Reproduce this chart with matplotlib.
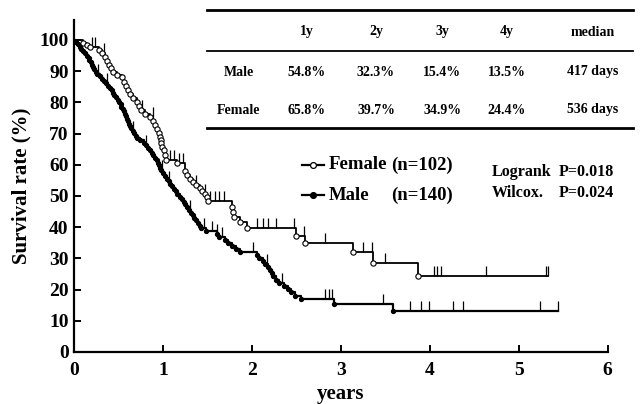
import numpy as np
import matplotlib
matplotlib.use('Agg')
import matplotlib.pyplot as plt
from matplotlib.lines import Line2D

# Female: event times (years) and survival (%) after each drop
f_t = [0.10, 0.14, 0.18, 0.28, 0.31, 0.35, 0.37, 0.39, 0.41, 0.43, 0.48, 0.54, 0.56, 0.58,
       0.60, 0.63, 0.66, 0.70, 0.73, 0.75, 0.80, 0.85, 0.89, 0.91, 0.93, 0.95, 0.96, 0.97,
       0.98, 0.99, 1.01, 1.02, 1.03, 1.15, 1.25, 1.27, 1.30, 1.33, 1.37, 1.41, 1.44, 1.47,
       1.49, 1.50, 1.77, 1.79, 1.80, 1.86, 1.94, 2.49, 2.60, 3.13, 3.36, 3.87]
f_s = [99.0, 98.4, 97.8, 96.8, 95.7, 94.6, 93.3, 92.0, 90.9, 89.6, 88.9, 88.0, 86.6, 85.2,
       83.9, 82.6, 81.4, 80.2, 78.8, 77.6, 76.4, 75.2, 74.0, 72.8, 71.4, 70.2, 69.0, 67.9,
       66.9, 65.8, 64.6, 63.2, 61.6, 60.6, 58.0, 56.6, 55.5, 54.5, 53.4, 52.5, 51.6, 50.7,
       49.6, 48.3, 46.6, 45.0, 43.4, 41.8, 39.8, 37.3, 34.9, 31.9, 28.4, 24.4]
f_cens = [0.20, 0.23, 0.33, 0.76, 0.88, 1.08, 1.12, 1.18, 1.22, 1.37, 1.47, 1.53, 1.58, 1.63,
          1.68, 2.06, 2.12, 2.18, 2.27, 2.47, 2.58, 2.82, 3.25, 3.35, 3.49, 4.05, 4.08, 4.13,
          4.63, 5.31, 5.33]
f_end = 5.33

# Male
m_t = [0.02, 0.04, 0.06, 0.08, 0.10, 0.12, 0.14, 0.16, 0.17, 0.19, 0.20, 0.21, 0.22, 0.24,
       0.25, 0.29, 0.31, 0.33, 0.36, 0.38, 0.40, 0.42, 0.44, 0.45, 0.47, 0.49, 0.50, 0.52,
       0.53, 0.55, 0.56, 0.57, 0.58, 0.59, 0.60, 0.62, 0.63, 0.64, 0.66, 0.67, 0.69, 0.71,
       0.74, 0.78, 0.81, 0.83, 0.85, 0.87, 0.89, 0.91, 0.93, 0.94, 0.95, 0.96, 0.98, 1.00,
       1.02, 1.04, 1.06, 1.08, 1.10, 1.12, 1.14, 1.16, 1.19, 1.21, 1.23, 1.25, 1.27, 1.29,
       1.31, 1.33, 1.35, 1.37, 1.39, 1.41, 1.43, 1.48, 1.60, 1.63, 1.70, 1.73, 1.77, 1.82,
       1.86, 2.05, 2.08, 2.12, 2.15, 2.18, 2.20, 2.22, 2.24, 2.27, 2.30, 2.36, 2.40, 2.44,
       2.48, 2.55, 2.92, 3.58]
m_s = [99.3, 98.6, 97.9, 97.1, 96.4, 95.7, 94.9, 94.2, 93.5, 92.8, 92.0, 91.3, 90.6, 89.8,
       89.1, 88.4, 87.6, 86.9, 86.1, 85.4, 84.6, 83.9, 83.1, 82.4, 81.6, 80.9, 80.1, 79.4,
       78.6, 77.8, 77.1, 76.3, 75.5, 74.8, 74.0, 73.2, 72.4, 71.7, 70.9, 70.1, 69.3, 68.5,
       67.8, 67.0, 66.2, 65.4, 64.6, 63.8, 63.0, 62.2, 61.4, 60.6, 59.8, 59.0, 58.2, 57.4,
       56.5, 55.6, 54.8, 54.0, 53.1, 52.3, 51.5, 50.6, 49.8, 49.0, 48.1, 47.3, 46.4, 45.6,
       44.7, 43.9, 43.0, 42.2, 41.3, 40.5, 39.6, 38.7, 37.8, 36.9, 36.0, 35.0, 34.1, 33.1,
       32.2, 31.2, 30.2, 29.2, 28.2, 27.2, 26.2, 25.2, 24.2, 23.2, 22.2, 21.2, 20.2, 19.1,
       18.1, 17.0, 15.4, 13.2]
m_cens = [0.27, 0.37, 0.66, 0.81, 0.99, 1.06, 1.30, 1.46, 1.55, 1.60, 1.66, 2.01, 2.17, 2.34,
          2.82, 2.86, 2.90, 3.47, 3.78, 3.90, 3.99, 4.26, 4.37, 5.24, 5.44]
m_end = 5.44

# table
tab_cols = ['1y', '2y', '3y', '4y', 'median']
tab_rows = ['Male', 'Female']
male_vals = ['54.8%', '32.3%', '15.4%', '13.5%', '417 days']
female_vals = ['65.8%', '39.7%', '34.9%', '24.4%', '536 days']

plt.rcParams['font.family'] = ['Liberation Serif', 'DejaVu Serif']
plt.rcParams['font.weight'] = 'bold'

W, H = 642, 404
fig = plt.figure(figsize=(6.42, 4.04), dpi=100)
ax = fig.add_axes([74.3 / W, 1 - 352 / H, (607.7 - 74.3) / W, (352 - 20) / H])


def km_curve(t, s, cens, end, filled, lw, ms):
    times = [0] + t + [end]
    surv = [100] + s + [s[-1]]
    ax.step(times, surv, where='post', color='black', lw=lw, zorder=2)
    ax.plot(t, s, 'o', ms=ms, mec='black', mew=0.8,
            mfc='black' if filled else 'white', zorder=3)
    idx = np.searchsorted(np.array(t), np.array(cens), side='right')
    cy = np.array([100] + s)[idx]
    ax.vlines(cens, cy, cy + 3.2, color='black', lw=0.9, zorder=2)


km_curve(f_t, f_s, f_cens, f_end, False, 1.3, 3.8)
km_curve(m_t, m_s, m_cens, m_end, True, 1.6, 3.0)

ax.set_xlim(0, 6)
ax.set_ylim(0, 106.4)
ax.set_xticks(range(0, 7))
ax.set_yticks(range(0, 101, 10))
ax.spines['top'].set_visible(False)
ax.spines['right'].set_visible(False)
ax.spines['left'].set_linewidth(1.6)
ax.spines['bottom'].set_linewidth(1.6)
ax.tick_params(direction='in', length=5, width=1.4, labelsize=14)
ax.tick_params(axis='x', pad=7)
ax.tick_params(axis='y', pad=4)
for lab in ax.get_xticklabels() + ax.get_yticklabels():
    lab.set_fontweight('bold')
ax.set_xlabel('years', fontsize=15, fontweight='bold', labelpad=4)
ax.set_ylabel('Survival rate (%)', fontsize=15, fontweight='bold', labelpad=6)


def fx(px):
    return px / W


def fy(py):
    return 1 - py / H


# table rules
for py, lw in [(10, 2.0), (50.5, 1.3), (128, 2.0)]:
    fig.add_artist(Line2D([fx(207), fx(633)], [fy(py), fy(py)], color='black', lw=lw))

col_x = [307, 376, 442, 507, 593]
for cx, c in zip(col_x, tab_cols):
    fig.text(fx(cx), fy(32), c, ha='center', va='center', fontsize=10, fontweight='bold')
for ry, name, vals in [(72, tab_rows[0], male_vals), (110, tab_rows[1], female_vals)]:
    fig.text(fx(239), fy(ry), name, ha='center', va='center', fontsize=10, fontweight='bold')
    for cx, v in zip(col_x, vals):
        fig.text(fx(cx), fy(ry), v, ha='center', va='center', fontsize=10, fontweight='bold')

# legend
for ly, filled, lab, n in [(165, False, 'Female', '(n=102)'), (195, True, 'Male', '(n=140)')]:
    fig.add_artist(Line2D([fx(302), fx(324)], [fy(ly), fy(ly)], color='black', lw=1.6))
    fig.add_artist(Line2D([fx(313)], [fy(ly)], marker='o', ms=4.2, mec='black', mew=0.9,
                          mfc='black' if filled else 'white'))
    fig.text(fx(329), fy(ly), lab, ha='left', va='center', fontsize=13.5, fontweight='bold')
    fig.text(fx(453), fy(ly), n, ha='right', va='center', fontsize=13.5, fontweight='bold')

fig.text(fx(492), fy(172), 'Logrank', ha='left', va='center', fontsize=11.5, fontweight='bold')
fig.text(fx(559), fy(172), 'P=0.018', ha='left', va='center', fontsize=11.5, fontweight='bold')
fig.text(fx(492), fy(193), 'Wilcox.', ha='left', va='center', fontsize=11.5, fontweight='bold')
fig.text(fx(559), fy(193), 'P=0.024', ha='left', va='center', fontsize=11.5, fontweight='bold')

fig.savefig('out.png', dpi=100)
